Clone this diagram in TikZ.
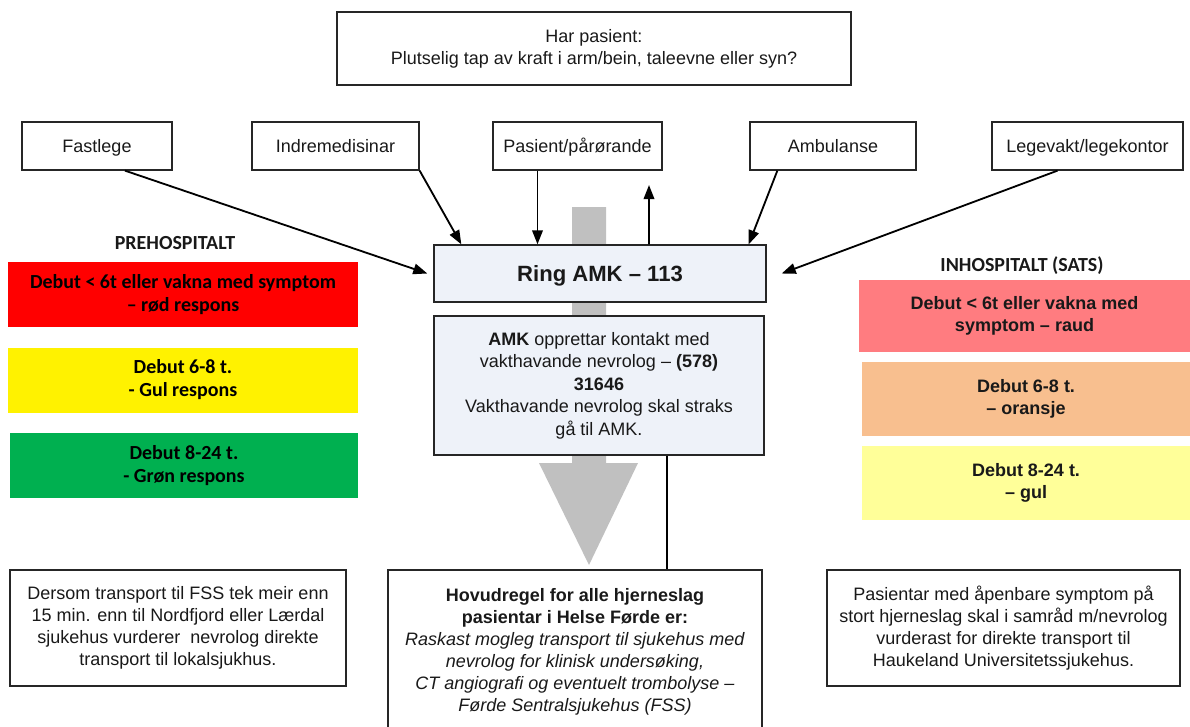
\documentclass[tikz,border=0pt]{standalone}
\usepackage{fontspec}
\setmainfont{Liberation Sans}
\newfontfamily\calibri{Carlito}
\usetikzlibrary{arrows.meta}

\definecolor{amkfill}{RGB}{238,242,249}
\definecolor{raudfill}{RGB}{255,124,128}
\definecolor{oransjefill}{RGB}{248,191,143}
\definecolor{gulfill}{RGB}{255,255,153}
\definecolor{gronfill}{RGB}{0,176,80}
\definecolor{pilgra}{RGB}{192,192,192}

\tikzset{
  box/.style={draw=black!85, line width=0.9pt, align=center, inner sep=0pt, text=black!90,
    font=\fontsize{12.8}{15.6}\selectfont},
  kjelde/.style={box, minimum height=1.2cm, text height=11.5pt, text depth=2pt},
  amkbox/.style={box, fill=amkfill},
  prebox/.style={align=center, inner sep=0pt, minimum width=8.75cm, minimum height=1.625cm,
    font=\calibri\bfseries\fontsize{14.2}{16.3}\selectfont},
  inbox/.style={align=center, inner sep=0pt, minimum width=8.2cm, minimum height=1.85cm,
    text=black!90, font=\bfseries\fontsize{12.8}{15.6}\selectfont},
  overskrift/.style={text=black!90, font=\calibri\bfseries\fontsize{14.2}{16}\selectfont},
}

\begin{document}
\begin{tikzpicture}[x=0.025cm, y=-0.025cm, >={Triangle[length=10pt,width=7.5pt]}, line width=1.3pt]
        \useasboundingbox (0,0) rectangle (1190,726);
        \fill[pilgra] (572,207) -- (606,207) -- (606,463) -- (638,463) -- (589,565) -- (539,463) -- (572,463) -- cycle;

        \node[box, minimum width=12.85cm, minimum height=1.825cm] at (594, 48.5)(spm){Har pasient:\\Plutselig tap av kraft i arm/bein, taleevne eller syn?};

        \node[kjelde, minimum width=3.75cm] at (97, 146)(fast){Fastlege};
        \node[kjelde, minimum width=4.175cm] at (335.5, 146)(indre){Indremedisinar};
        \node[kjelde, minimum width=4.225cm] at (577.5, 146)(pas){Pasient/pårørande};
        \node[kjelde, minimum width=4.15cm] at (833, 146)(amb){Ambulanse};
        \node[kjelde, minimum width=4.775cm] at (1087.5, 146)(lege){Legevakt/legekontor};

        \node[amkbox, minimum width=8.3cm, minimum height=1.425cm, text height=13pt, text depth=2pt, font=\bfseries\fontsize{15.7}{18}\selectfont] at (600, 273.5)(ring){Ring AMK – 113};
        \node[amkbox, minimum width=8.25cm, minimum height=3.475cm, font=\fontsize{12.8}{16}\selectfont] at (599, 385.5)(amk){\textbf{AMK} opprettar kontakt med\\vakthavande nevrolog – \textbf{(578)}\\\textbf{31646}\\Vakthavande nevrolog skal straks\\gå til AMK.};

        \node[overskrift] at (175, 243)(pre){PREHOSPITALT};
        \node[prebox, fill=red] at (183, 294.5)(prerod){Debut < 6t eller vakna med symptom\\– rød respons};
        \node[prebox, fill=yellow] at (183, 380)(pregul){Debut 6-8 t.\\- Gul respons};
        \node[prebox, fill=gronfill, minimum width=8.7cm] at (184, 465.5)(pregron){Debut 8-24 t.\\- Grøn respons};

        \node[overskrift] at (1022, 266)(inn){INHOSPITALT (SATS)};
        \node[inbox, fill=raudfill, minimum width=8.275cm, minimum height=1.8cm] at (1024.5, 316)(innraud){Debut < 6t eller vakna med\\symptom – raud};
        \node[inbox, fill=oransjefill] at (1026, 399)(innoransje){Debut 6-8 t.\\– oransje};
        \node[inbox, fill=gulfill] at (1026, 483)(inngul){Debut 8-24 t.\\– gul};

        \node[box, minimum width=8.4cm, minimum height=2.9cm] at (178, 628)(lokal){Dersom transport til FSS tek meir enn\\15 min. enn til Nordfjord eller Lærdal\\sjukehus vurderer\ \ nevrolog direkte\\transport til lokalsjukhus.};
        \node[box, minimum width=9.35cm, minimum height=4.1cm] at (575, 652)(regel){\textbf{Hovudregel for alle hjerneslag}\\\textbf{pasientar i Helse Førde er:}\\\textit{Raskast mogleg transport til sjukehus med}\\\textit{nevrolog for klinisk undersøking,}\\\textit{CT angiografi og eventuelt trombolyse –}\\\textit{Førde Sentralsjukehus (FSS)}};
        \node[box, minimum width=8.825cm, minimum height=2.9cm] at (1003.5, 628)(hus){Pasientar med åpenbare symptom på\\stort hjerneslag skal i samråd m/nevrolog\\vurderast for direkte transport til\\Haukeland Universitetssjukehus.};

        \coordinate (pasfot) at ([xshift=-1cm]pas.south);
        \coordinate (oppfot) at ([xshift=1.225cm]ring.north);
        \coordinate (opptopp) at (649, 185);
        \coordinate (linjetopp) at ([xshift=1.7cm]amk.south);

        \path[->]
            ([xshift=0.7cm]fast.south)edge([xshift=-0.15cm]ring.west)
            (indre.south east)edge([xshift=0.7cm]ring.north west)
            (pasfot)edge(pasfot |- ring.north)
            (oppfot)edge(opptopp)
            ([xshift=0.7cm]amb.south west)edge([xshift=-0.45cm]ring.north east)
            ([xshift=-0.75cm]lege.south)edge([xshift=0.375cm]ring.east)
            ;
        \draw (linjetopp) -- (linjetopp |- regel.north);
    \end{tikzpicture}
\end{document}
